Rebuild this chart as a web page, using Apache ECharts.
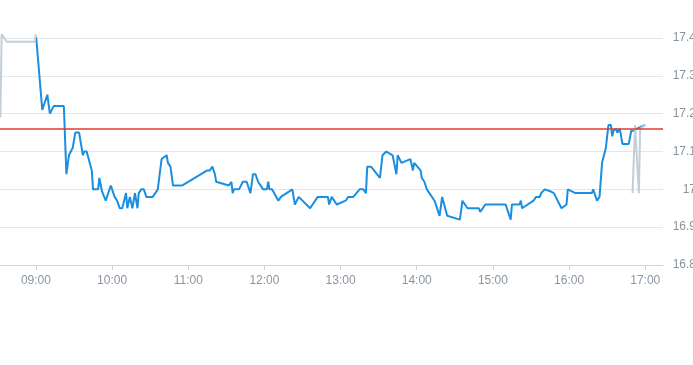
<!DOCTYPE html>
<html>
<head>
<meta charset="utf-8">
<script src="https://cdn.jsdelivr.net/npm/echarts@6/dist/echarts.min.js"></script>
<style>html,body{margin:0;padding:0;background:#fff;}#c{width:693px;height:365px;}</style>
</head>
<body>
<div id="c"></div>
<script>
// minutes relative to 09:00
const mainTimes = [0,5,9,11,14,22,24,26,29,30,31,34,37,38,40,44,45,49,50,52,55,59,62,64,66,68,71,72,74,76,78,80,81,83,85,87,92,96,99,103,104,106,108,115,135,137,139,141,142,152,154,155,156,160,163,166,169,171,173,175,179,182,183,184,186,191,193,202,204,207,216,222,230,231,233,237,244,246,250,255,258,260,261,264,271,273,276,281,282,284,285,288,295,296,297,298,303,304,306,308,314,318,320,324,334,335,336,340,349,350,354,370,374,375,381,382,383,392,394,397,398,401,405,408,414,418,419,425,438,439,442,444,445,446,449,450,451,453,454,455,456,457,458,460,462,467,469,471,473,480];
const mainValues = [17.41,17.21,17.25,17.20,17.22,17.22,17.04,17.09,17.11,17.11,17.15,17.15,17.09,17.10,17.10,17.05,17.00,17.00,17.03,16.995,16.97,17.01,16.98,16.97,16.95,16.95,16.99,16.95,16.98,16.95,16.99,16.95,16.99,17.00,17.00,16.98,16.98,17.00,17.08,17.09,17.07,17.06,17.01,17.01,17.05,17.05,17.06,17.04,17.02,17.01,17.02,16.99,17.00,17.00,17.02,17.02,16.99,17.04,17.04,17.02,17.00,17.00,17.02,17.00,17.00,16.97,16.98,17.00,16.96,16.98,16.95,16.98,16.98,16.96,16.98,16.96,16.97,16.98,16.98,17.00,17.00,16.99,17.06,17.06,17.03,17.09,17.10,17.09,17.09,17.04,17.09,17.07,17.08,17.08,17.05,17.07,17.05,17.03,17.02,17.00,16.97,16.93,16.98,16.93,16.92,16.92,16.97,16.95,16.95,16.94,16.96,16.96,16.92,16.96,16.96,16.97,16.95,16.97,16.98,16.98,16.99,17.00,16.995,16.99,16.95,16.96,17.00,16.99,16.99,17.00,16.97,16.98,16.98,17.07,17.11,17.14,17.17,17.17,17.14,17.155,17.15,17.16,17.15,17.16,17.12,17.12,17.155,17.155,17.16,17.17];
const extTimes = [-28,-27,-23,-1,0,null,470,472,475,476,480];
const extValues = [17.19,17.41,17.39,17.39,17.41,null,16.99,17.17,16.99,17.16,17.17];
const prevClose = 17.16;
const hourTicks = [0,60,120,180,240,300,360,420,480];
const hourLabels = ['09:00','10:00','11:00','12:00','13:00','14:00','15:00','16:00','17:00'];

const mainData = mainTimes.map((t,i)=>[t, mainValues[i]]);
const extData = extTimes.map((t,i)=> t===null ? [null,null] : [t, extValues[i]]);

const chart = echarts.init(document.getElementById('c'), null, {renderer:'canvas'});
const font = 'Liberation Sans, Arial, sans-serif';
chart.setOption({
  animation:false,
  grid:{left:0,right:30,top:38,bottom:100,containLabel:false,outerBoundsMode:'none'},
  xAxis:{
    type:'value', min:-28.3, max:494,
    axisLine:{show:true,lineStyle:{color:'#d0d4d8',width:1}},
    axisTick:{show:true,customValues:hourTicks,length:5,lineStyle:{color:'#d0d4d8'}},
    axisLabel:{customValues:hourTicks,margin:10,color:'#8a95a0',fontSize:12,fontFamily:font,
      formatter:function(v){const i=hourTicks.indexOf(Math.round(v));return i>=0?hourLabels[i]:'';}},
    splitLine:{show:false}
  },
  yAxis:{
    type:'value', position:'right', min:16.8, max:17.4, interval:0.1,
    axisLine:{show:false}, axisTick:{show:false},
    axisLabel:{align:'right',margin:33,color:'#8a939c',fontSize:12,fontFamily:font,
      formatter:function(v){return String(Math.round(v*10)/10);}},
    splitLine:{show:true,lineStyle:{color:'#e4e7ea',width:1}}
  },
  series:[
    {type:'line',data:mainData,showSymbol:false,symbol:'none',
     lineStyle:{color:'#1a8fe0',width:2},
     markLine:{silent:true,symbol:'none',label:{show:false},
       lineStyle:{color:'#e03a30',width:1.5,type:'solid',opacity:1},
       data:[{yAxis:prevClose}]}},
    {type:'line',data:extData,showSymbol:false,symbol:'none',connectNulls:false,clip:false,
     lineStyle:{color:'#c3ced8',width:2},z:3}
  ]
});
</script>
</body>
</html>
